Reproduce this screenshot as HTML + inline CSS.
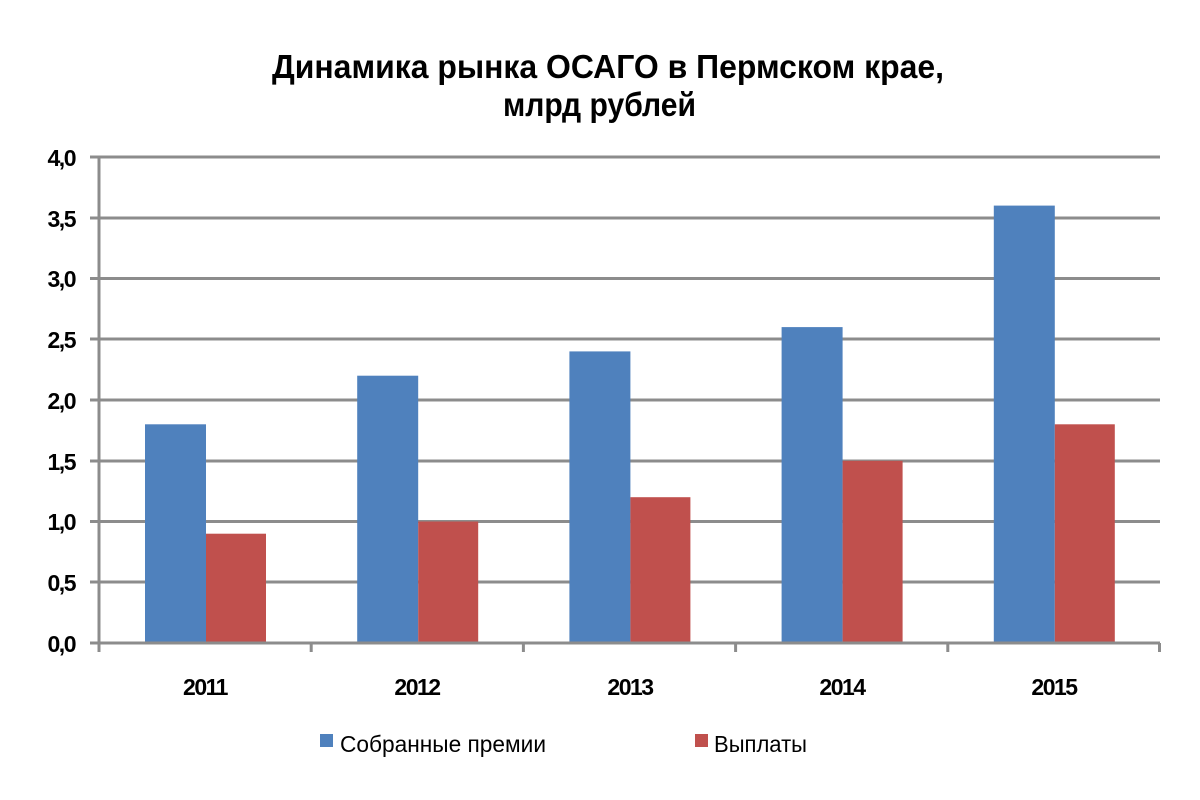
<!DOCTYPE html>
<html><head><meta charset="utf-8"><style>
html,body{margin:0;padding:0;background:#fff;}
svg{display:block;font-family:"Liberation Sans",sans-serif;}
</style></head><body>
<svg width="1200" height="800" viewBox="0 0 1200 800">
<rect width="1200" height="800" fill="#fff"/>
<g font-weight="bold" fill="#000" font-size="33" text-anchor="start">
<text x="272" y="78" textLength="672" lengthAdjust="spacingAndGlyphs">Динамика рынка ОСАГО в Пермском крае,</text>
<text x="503" y="116" textLength="193" lengthAdjust="spacingAndGlyphs">млрд рублей</text>
</g>
<g stroke="#8c8c8c" stroke-width="3">
<line x1="90" y1="157" x2="1160" y2="157"/>
<line x1="90" y1="218" x2="1160" y2="218"/>
<line x1="90" y1="278.5" x2="1160" y2="278.5"/>
<line x1="90" y1="339" x2="1160" y2="339"/>
<line x1="90" y1="400" x2="1160" y2="400"/>
<line x1="90" y1="461" x2="1160" y2="461"/>
<line x1="90" y1="521.5" x2="1160" y2="521.5"/>
<line x1="90" y1="582" x2="1160" y2="582"/>
</g>
<g>
<rect x="145" y="424.3" width="61" height="218.7" fill="#4f81bd"/>
<rect x="206" y="533.7" width="60" height="109.3" fill="#c0504d"/>
<rect x="357.2" y="375.7" width="61" height="267.3" fill="#4f81bd"/>
<rect x="418.2" y="521.5" width="60" height="121.5" fill="#c0504d"/>
<rect x="569.4" y="351.4" width="61" height="291.6" fill="#4f81bd"/>
<rect x="630.4" y="497.2" width="60" height="145.8" fill="#c0504d"/>
<rect x="781.6" y="327.1" width="61" height="315.9" fill="#4f81bd"/>
<rect x="842.6" y="460.8" width="60" height="182.2" fill="#c0504d"/>
<rect x="993.8" y="205.6" width="61" height="437.4" fill="#4f81bd"/>
<rect x="1054.8" y="424.3" width="60" height="218.7" fill="#c0504d"/>
</g>
<g stroke="#8c8c8c" stroke-width="3" fill="none">
<line x1="99" y1="156" x2="99" y2="652"/>
<line x1="90" y1="643" x2="1160" y2="643"/>
<line x1="311.2" y1="643" x2="311.2" y2="652"/>
<line x1="523.4" y1="643" x2="523.4" y2="652"/>
<line x1="735.6" y1="643" x2="735.6" y2="652"/>
<line x1="947.8" y1="643" x2="947.8" y2="652"/>
<line x1="1159.5" y1="643" x2="1159.5" y2="652"/>
</g>
<g font-weight="bold" font-size="23" text-anchor="end" fill="#000" letter-spacing="-1.5">
<text x="75" y="166">4,0</text>
<text x="75" y="227">3,5</text>
<text x="75" y="287">3,0</text>
<text x="75" y="348">2,5</text>
<text x="75" y="409">2,0</text>
<text x="75" y="470">1,5</text>
<text x="75" y="530">1,0</text>
<text x="75" y="591">0,5</text>
<text x="75" y="652">0,0</text>
</g>
<g font-weight="bold" font-size="23" text-anchor="middle" fill="#000" letter-spacing="-1.5">
<text x="205" y="695">2011</text>
<text x="417" y="695">2012</text>
<text x="630" y="695">2013</text>
<text x="842" y="695">2014</text>
<text x="1054" y="695">2015</text>
</g>
<rect x="320" y="734" width="13" height="13" fill="#4f81bd"/>
<text x="340" y="752" font-size="23" textLength="206" lengthAdjust="spacingAndGlyphs">Собранные премии</text>
<rect x="695" y="734" width="13" height="13" fill="#c0504d"/>
<text x="714" y="752" font-size="23" textLength="93" lengthAdjust="spacingAndGlyphs">Выплаты</text>
</svg>
</body></html>
